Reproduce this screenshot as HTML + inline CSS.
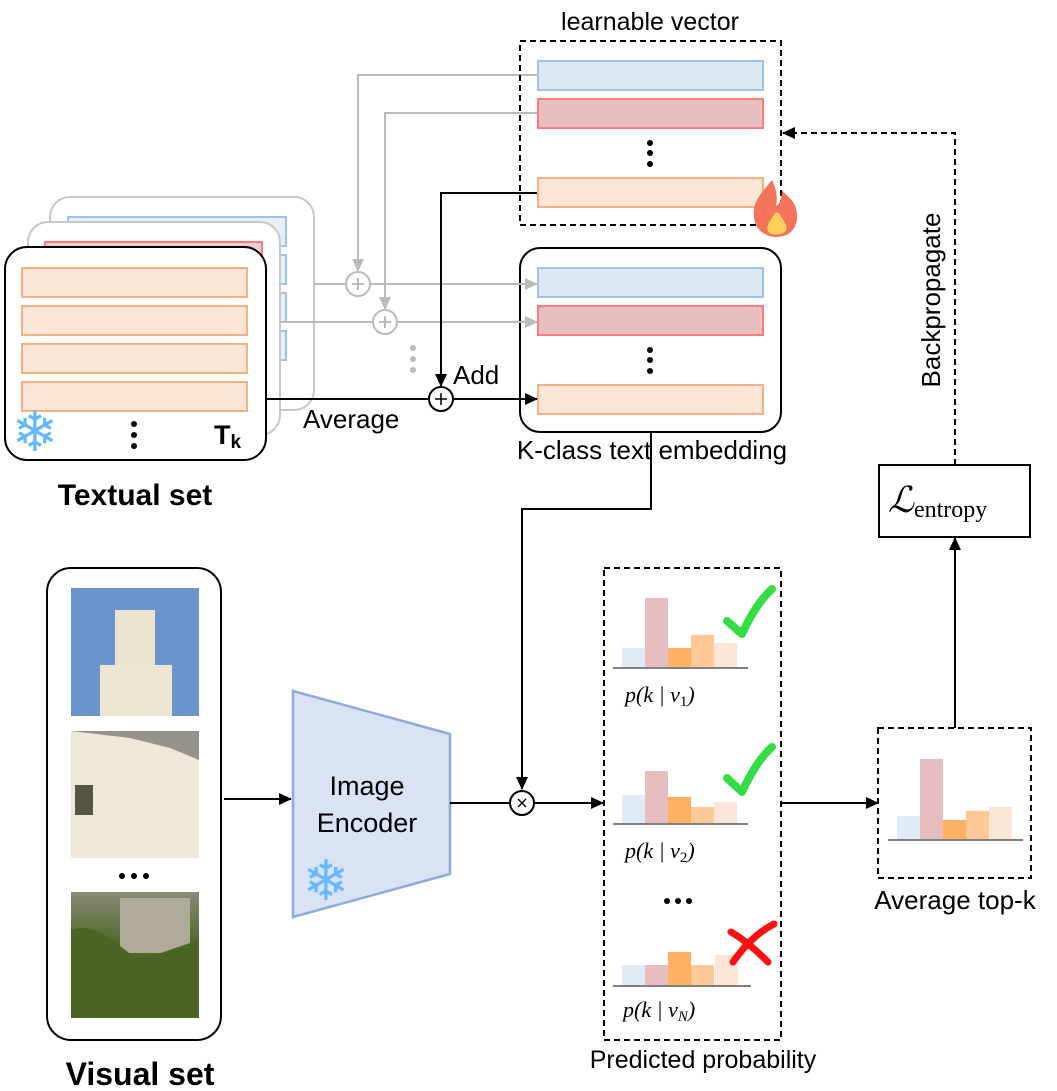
<!DOCTYPE html>
<html><head><meta charset="utf-8"><style>
html,body{margin:0;padding:0;background:#fff;}
svg{display:block;}
text{font-family:"Liberation Sans","DejaVu Sans",sans-serif;}
.m{font-family:"Liberation Serif","DejaVu Serif",serif;font-style:italic;}
</style></head><body>
<svg width="1057" height="1091" viewBox="0 0 1057 1091" xmlns="http://www.w3.org/2000/svg">
<defs>
<marker id="ab" markerWidth="13" markerHeight="12" refX="12" refY="6" orient="auto" markerUnits="userSpaceOnUse"><path d="M0,0 L13,6 L0,12 z" fill="#000"/></marker>
<marker id="ag" markerWidth="13" markerHeight="12" refX="12" refY="6" orient="auto" markerUnits="userSpaceOnUse"><path d="M0,0 L13,6 L0,12 z" fill="#bbb"/></marker>
<marker id="a2" markerWidth="13" markerHeight="12" refX="12" refY="6" orient="auto" markerUnits="userSpaceOnUse"><path d="M0,0 L13,6 L0,12 z" fill="#000"/></marker>
</defs>

<!-- Textual set back cards -->
<rect x="50" y="197" width="264" height="213" rx="20" fill="#fff" stroke="#c8c8c8" stroke-width="2"/>
<g fill="#e6eef8" stroke="#9dc3e6" stroke-width="2">
<rect x="68" y="217" width="218" height="29"/><rect x="68" y="255" width="218" height="29"/><rect x="68" y="293" width="218" height="29"/><rect x="68" y="331" width="218" height="29"/>
</g>
<rect x="28" y="222" width="252" height="213" rx="20" fill="#fff" stroke="#c8c8c8" stroke-width="2"/>
<g fill="#ecd0d0" stroke="#ff7c7c" stroke-width="2">
<rect x="45" y="242" width="217" height="29"/><rect x="45" y="280" width="217" height="29"/><rect x="45" y="318" width="217" height="29"/><rect x="45" y="356" width="217" height="29"/>
</g>
<rect x="5" y="247" width="261" height="213" rx="22" fill="#fff" stroke="#000" stroke-width="2"/>
<g fill="#fae5d6" stroke="#f4b183" stroke-width="2">
<rect x="22" y="268" width="225" height="29"/><rect x="22" y="306" width="225" height="29"/><rect x="22" y="344" width="225" height="29"/><rect x="22" y="382" width="225" height="29"/>
</g>
<g fill="#000"><circle cx="134" cy="424" r="3"/><circle cx="134" cy="435" r="3"/><circle cx="134" cy="446" r="3"/></g>
<text x="35" y="451" font-size="56" fill="#66b8ff" text-anchor="middle" font-family="DejaVu Sans">❄</text>
<text x="214" y="444" font-size="27" font-weight="bold" font-family="Liberation Serif,serif">T<tspan font-size="19" dy="4">k</tspan></text>
<text x="135" y="505" font-size="30" font-weight="bold" text-anchor="middle">Textual set</text>

<!-- K-class box (behind connectors) -->
<rect x="520" y="248" width="261" height="184" rx="20" fill="#fff" stroke="#000" stroke-width="2"/>
<rect x="538" y="268" width="225" height="29" fill="#dde8f4" stroke="#9dc3e6" stroke-width="2"/>
<rect x="538" y="306" width="225" height="29" fill="#e8bfc0" stroke="#ff7c7c" stroke-width="2"/>
<rect x="538" y="385" width="225" height="29" fill="#fae5d6" stroke="#f4b183" stroke-width="2"/>
<g fill="#000"><circle cx="650" cy="350" r="3"/><circle cx="650" cy="360" r="3"/><circle cx="650" cy="371" r="3"/></g>

<!-- gray connectors -->
<g stroke="#bbb" stroke-width="2" fill="none">
<path d="M537,75 H358 V271" marker-end="url(#ag)"/>
<path d="M537,113 H385 V309" marker-end="url(#ag)"/>
<path d="M314,284 H346"/><path d="M370,284 H537" marker-end="url(#ag)"/>
<path d="M280,322 H373"/><path d="M397,322 H537" marker-end="url(#ag)"/>
<circle cx="358" cy="284" r="12" fill="#fff"/>
<circle cx="385" cy="322" r="12" fill="#fff"/>
<path d="M352,284 H364 M358,278 V290 M379,322 H391 M385,316 V328"/>
</g>
<g fill="#bbb"><circle cx="413" cy="348" r="3"/><circle cx="413" cy="359" r="3"/><circle cx="413" cy="370" r="3"/></g>

<!-- black connectors -->
<g stroke="#000" stroke-width="2" fill="none">
<path d="M537,193 H441 V386" marker-end="url(#a2)"/>
<path d="M266,399 H428"/><path d="M453,399 H537" marker-end="url(#a2)"/>
<circle cx="441" cy="399" r="12" fill="#fff"/>
<path d="M435,399 H447 M441,393 V405" stroke-width="1.5"/>
</g>
<text x="453" y="384" font-size="26">Add</text>
<text x="303" y="428" font-size="26">Average</text>

<!-- learnable vector -->
<text x="650" y="30" font-size="25" text-anchor="middle">learnable vector</text>
<rect x="520" y="41" width="261" height="184" fill="none" stroke="#000" stroke-width="2" stroke-dasharray="6,4"/>
<rect x="538" y="61" width="225" height="29" fill="#dde8f4" stroke="#9dc3e6" stroke-width="2"/>
<rect x="538" y="99" width="225" height="29" fill="#e8bfc0" stroke="#ff7c7c" stroke-width="2"/>
<rect x="538" y="178" width="225" height="29" fill="#fae5d6" stroke="#f4b183" stroke-width="2"/>
<g fill="#000"><circle cx="650" cy="143" r="3"/><circle cx="650" cy="153" r="3"/><circle cx="650" cy="164" r="3"/></g>
<path d="M772,180 C760,195 752,202 754,218 C756,232 768,237 776,237 C790,237 798,228 797,214 C796,200 786,196 782,190 C782,198 780,204 776,206 C778,196 776,188 772,180 Z" fill="#f3735b"/>
<path d="M776,212 C770,220 766,226 768,231 C770,236 784,236 786,230 C788,224 782,220 780,214 Z" fill="#ffcf5a"/>

<text x="652" y="459" font-size="26" text-anchor="middle">K-class text embedding</text>
<path d="M651,432 V509 H522 V789" stroke="#000" stroke-width="2" fill="none" marker-end="url(#ab)"/>

<!-- Visual set -->
<rect x="47" y="568" width="174" height="472" rx="24" fill="#fff" stroke="#000" stroke-width="2"/>
<defs>
<linearGradient id="g3" x1="0" y1="0" x2="0" y2="1"><stop offset="0" stop-color="#8a8a78"/><stop offset="0.4" stop-color="#4f6a2a"/><stop offset="1" stop-color="#4a5a20"/></linearGradient>
</defs>
<rect x="71" y="588" width="128" height="128" fill="#6b93cc"/>
<rect x="115" y="610" width="40" height="60" fill="#e9e3cf"/>
<rect x="100" y="665" width="72" height="51" fill="#ece5d2"/>
<rect x="71" y="731" width="128" height="127" fill="#efe8d9"/>
<path d="M71,731 H199 V760 L170,748 L130,738 Z" fill="#5a5a5a" opacity="0.6"/>
<rect x="75" y="785" width="18" height="30" fill="#554"/>
<rect x="71" y="892" width="128" height="126" fill="url(#g3)"/>
<rect x="120" y="898" width="70" height="55" fill="#b0aa98"/>
<path d="M71,930 C100,920 120,950 140,960 L199,940 V1018 H71 Z" fill="#4a6424"/>
<g fill="#000"><circle cx="122" cy="876" r="3"/><circle cx="134" cy="876" r="3"/><circle cx="146" cy="876" r="3"/></g>
<text x="140" y="1085" font-size="32" font-weight="bold" text-anchor="middle">Visual set</text>

<path d="M224,799 H291" stroke="#000" stroke-width="2" marker-end="url(#ab)"/>
<polygon points="293,691 450,734 450,874 293,917" fill="#dae3f3" stroke="#8faadc" stroke-width="2.5"/>
<text x="367" y="795" font-size="27" text-anchor="middle">Image</text>
<text x="367" y="832" font-size="27" text-anchor="middle">Encoder</text>
<text x="326" y="900" font-size="56" fill="#66b8ff" text-anchor="middle" font-family="DejaVu Sans">❄</text>

<path d="M450,803 H509"/>
<path d="M450,803 H509" stroke="#000" stroke-width="2"/>
<path d="M534,803 H603" stroke="#000" stroke-width="2" fill="none" marker-end="url(#ab)"/>
<circle cx="522" cy="803" r="12" fill="#fff" stroke="#000" stroke-width="2"/>
<path d="M518,799 L526,807 M526,799 L518,807" stroke="#000" stroke-width="1.3"/>

<!-- predicted -->
<rect x="604" y="568" width="177" height="472" fill="none" stroke="#000" stroke-width="2" stroke-dasharray="6,4"/>
<g>
<rect x="622" y="648" width="23" height="20" fill="#deebf6"/><rect x="645" y="598" width="23" height="70" fill="#e6bebf"/><rect x="668" y="648" width="23" height="20" fill="#ffb163"/><rect x="691" y="635" width="23" height="33" fill="#ffc997"/><rect x="714" y="643" width="23" height="25" fill="#fbe5d7"/>
<path d="M613,668 H748" stroke="#808080" stroke-width="2"/>
<rect x="622" y="795" width="23" height="29" fill="#deebf6"/><rect x="645" y="771" width="23" height="53" fill="#e6bebf"/><rect x="668" y="797" width="23" height="27" fill="#ffb163"/><rect x="691" y="807" width="23" height="17" fill="#ffc997"/><rect x="714" y="802" width="23" height="22" fill="#fbe5d7"/>
<path d="M613,824 H748" stroke="#808080" stroke-width="2"/>
<rect x="622" y="965" width="23" height="21" fill="#deebf6"/><rect x="645" y="965" width="23" height="21" fill="#e6bebf"/><rect x="668" y="952" width="23" height="34" fill="#ffb163"/><rect x="691" y="965" width="23" height="21" fill="#ffc997"/><rect x="715" y="955" width="23" height="31" fill="#fbe5d7"/>
<path d="M613,986 H751" stroke="#808080" stroke-width="2"/>
</g>
<path d="M727,621 L742,634 C752,612 762,598 772,589" stroke="#33dd44" stroke-width="8" fill="none" stroke-linecap="round" stroke-linejoin="round"/>
<path d="M727,778 L742,792 C752,770 762,756 772,747" stroke="#33dd44" stroke-width="8" fill="none" stroke-linecap="round" stroke-linejoin="round"/>
<path d="M731,932 C745,940 758,952 768,962 M733,962 C745,945 758,932 774,924" stroke="#ff1111" stroke-width="7" fill="none" stroke-linecap="round"/>
<text x="625" y="702" font-size="22" class="m">p(k | v<tspan font-size="15" dy="4" font-style="normal">1</tspan><tspan dy="-4">)</tspan></text>
<text x="625" y="858" font-size="22" class="m">p(k | v<tspan font-size="15" dy="4" font-style="normal">2</tspan><tspan dy="-4">)</tspan></text>
<text x="623" y="1017" font-size="22" class="m">p(k | v<tspan font-size="15" dy="4">N</tspan><tspan dy="-4">)</tspan></text>
<g fill="#000"><circle cx="667" cy="901" r="3"/><circle cx="678" cy="901" r="3"/><circle cx="689" cy="901" r="3"/></g>
<text x="703" y="1068" font-size="25" text-anchor="middle">Predicted probability</text>

<path d="M781,803 H878" stroke="#000" stroke-width="2" marker-end="url(#ab)"/>
<rect x="878" y="728" width="153" height="150" fill="none" stroke="#000" stroke-width="2" stroke-dasharray="6,4"/>
<rect x="897" y="816" width="23" height="24" fill="#deebf6"/><rect x="920" y="759" width="23" height="81" fill="#e6bebf"/><rect x="943" y="820" width="23" height="20" fill="#ffb163"/><rect x="966" y="811" width="23" height="29" fill="#ffc997"/><rect x="989" y="807" width="23" height="33" fill="#fbe5d7"/>
<path d="M888,840 H1023" stroke="#808080" stroke-width="2"/>
<text x="955" y="909" font-size="26" text-anchor="middle">Average top-k</text>

<path d="M955,728 V538" stroke="#000" stroke-width="2" marker-end="url(#ab)"/>
<rect x="879" y="465" width="151" height="72" fill="#fff" stroke="#000" stroke-width="2"/>
<text x="888" y="512" font-size="36" class="m" font-family="Liberation Serif,serif">ℒ<tspan font-size="24" font-style="normal" dy="5">entropy</tspan></text>
<path d="M955,465 V133 H783" stroke="#000" stroke-width="2" stroke-dasharray="6,4" fill="none" marker-end="url(#ab)"/>
<text transform="translate(940,300) rotate(-90)" font-size="26" text-anchor="middle">Backpropagate</text>
</svg>
</body></html>
